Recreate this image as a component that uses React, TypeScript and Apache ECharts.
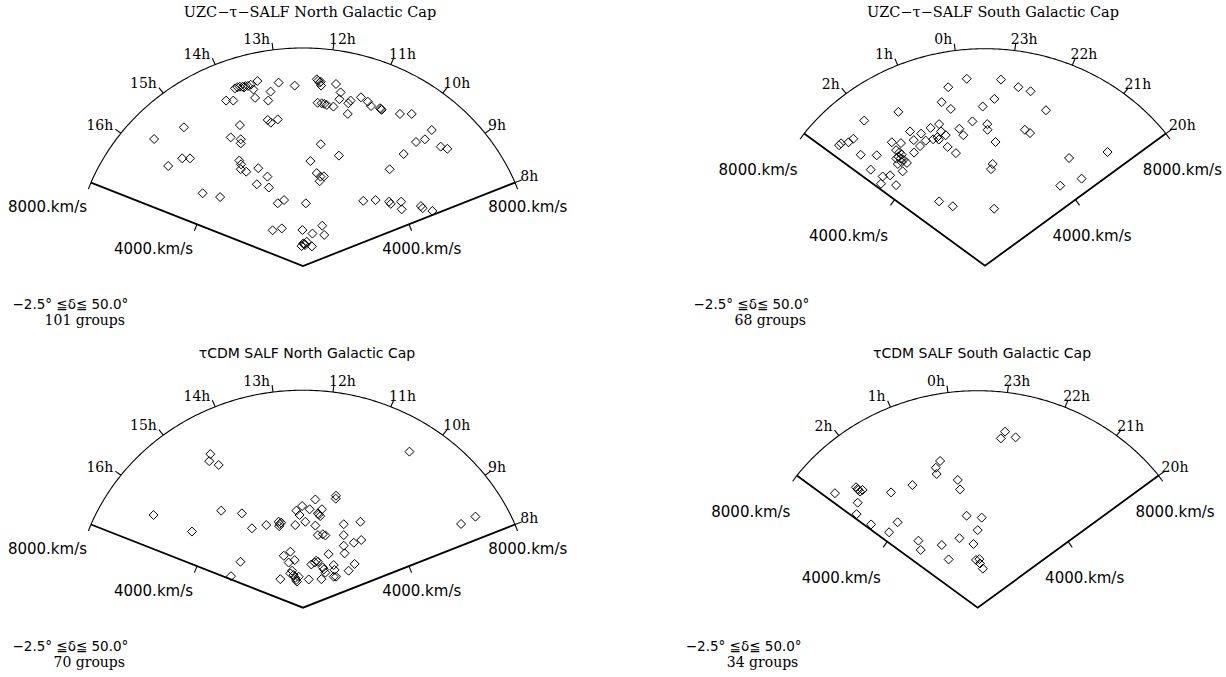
import React, { useEffect, useRef } from "react";
import * as echarts from "echarts";

// ---- Data: projected cone coordinates of the groups (km/s) ----
// x: east-west offset across the cone (negative = larger RA side / left), y: along the cone axis
const uzcNorthX = [-2370, -2280, -2200, -2100, -2010, -1920, -1820, -1730, -1590, -1130, -850, -290, -2680, -2430, -1670, -1210, 480, 530, 620, 630, 1150, 1310, 510, 650, 740, 830, 1060, 1270, 1580, 1660, 1560, 2020, 2260, 2370, 2680, 2740, 3380, 3790, 4490, 4250, 3940, 4800, 5030, 3510, 3020, -1230, -1120, -880, -2200, -2520, -2170, -2170, -4150, -5190, -4210, -3940, -4700, -2220, -2160, -2170, -1980, -1560, -1240, -1610, -1190, -3500, -2890, -880, -660, 100, 260, 620, 480, 610, 730, 580, 1250, -1060, -740, -20, 330, 670, 740, -50, 10, 70, 130, 310, 2100, 2530, 3000, 3060, 3420, 3440, 4110, 4170, 4510, -2060, 50, 2720, 580];
const uzcNorthY = [6520, 6560, 6580, 6580, 6600, 6610, 6650, 6480, 6790, 6400, 6730, 6620, 6070, 6070, 6170, 6070, 6850, 6800, 6760, 6620, 6680, 6370, 5990, 5970, 5950, 5910, 5850, 6120, 5970, 6070, 5580, 6190, 6030, 5870, 5790, 5730, 5580, 5580, 4990, 4650, 4550, 4380, 4300, 4110, 3550, 5360, 5260, 5380, 5170, 4720, 4650, 4500, 5090, 4660, 3950, 3950, 3670, 3870, 3730, 3550, 3460, 3590, 3280, 3000, 2880, 2670, 2530, 2300, 2420, 2300, 3850, 4470, 3410, 3280, 3290, 3110, 4050, 1310, 1380, 1320, 1190, 1480, 1140, 730, 830, 770, 890, 720, 2390, 2420, 2360, 2280, 2360, 2080, 2200, 2120, 2020, 6550, 810, 5760, 6730];

const uzcSouthX = [-640, 560, -1290, 1170, 1600, 330, -1520, -1200, -80, 2140, -3040, -4240, -440, -1610, -1910, 80, 90, -900, 1400, 1580, -2630, -1540, -2240, -1380, -2500, -2080, -2280, -1820, -1670, -1620, -760, 370, -1310, -1020, -5120, -5050, -4790, -4620, -4360, -3800, -3270, -2950, -2490, -2740, -3120, -3000, -2920, -3040, -2960, -2860, -2920, -3060, -3110, -2890, -4010, -3590, -3330, -3650, -3120, -1610, -1130, 320, 270, 210, 2950, 4300, 3390, 2640];
const uzcSouthY = [6890, 6860, 6580, 6580, 6430, 6150, 6030, 5780, 5870, 5730, 5670, 5350, 5320, 5220, 5080, 5220, 5010, 5050, 5010, 4890, 4950, 4950, 4870, 4810, 4630, 4610, 4410, 4660, 4740, 4650, 4810, 4560, 4380, 4150, 4440, 4510, 4550, 4680, 4090, 4070, 4550, 4520, 4170, 3790, 4260, 4180, 4090, 4020, 3950, 3910, 3820, 3750, 3950, 3480, 3540, 3290, 3330, 3020, 2970, 2370, 2190, 2100, 3750, 3560, 3970, 4190, 3210, 2950];

const cdmNorthX = [-3230, -3270, -2940, 3710, 5510, 6010, -5210, -3870, -2850, -2130, -1780, -1280, -850, -760, -830, -810, -270, -30, -230, -120, 230, 430, 660, 550, 600, 520, 1150, 1140, 80, 430, 1420, 2000, 520, 690, 780, 1420, 1770, 2030, 1420, 1450, -2180, -2510, -670, -440, -500, -290, -790, -380, -440, -330, -270, -240, -210, -150, 200, 290, 410, 460, 520, 690, 730, 890, 640, 1070, 1100, 1150, 1070, 1590, 1800, 780];
const cdmNorthY = [5650, 5390, 5250, 5740, 3080, 3350, 3410, 2800, 3570, 3470, 2920, 3040, 3160, 3130, 3000, 3080, 3040, 3740, 3570, 3410, 3620, 3980, 3620, 3430, 3370, 3470, 4120, 4010, 3160, 3020, 3070, 3160, 2670, 2700, 2660, 2670, 2390, 2490, 2280, 2000, 1690, 1160, 1910, 2060, 1660, 1750, 1050, 1360, 1260, 1200, 1100, 1020, 960, 1140, 1040, 1590, 1660, 1730, 1690, 1480, 1410, 1970, 1050, 1570, 1390, 1140, 1140, 1360, 1610, 1290];

const cdmSouthX = [960, 810, 1330, -1320, -1470, -1440, -700, -620, -2290, -3040, -5010, -4270, -4190, -4130, -4040, -4210, -4210, -4250, -3740, -3110, -2810, -2080, -2000, -1260, -1020, -640, -390, 140, 0, -150, -60, 60, 80, 180];
const cdmSouthY = [6490, 6240, 6280, 5410, 5160, 4930, 4710, 4360, 4520, 4250, 4220, 4440, 4340, 4280, 4340, 4380, 3870, 3450, 3070, 2780, 3150, 2470, 2130, 2310, 1780, 2560, 3390, 3320, 2860, 2350, 1760, 1790, 1630, 1440];

// ---- Axis labels ----
const northHours = [8, 9, 10, 11, 12, 13, 14, 15, 16];
const southHours = [20, 21, 22, 23, 0, 1, 2];
const velocityTicks = [4000, 8000];
const panelTitles = [
  "UZC\u2212\u03c4\u2212SALF North Galactic Cap",
  "UZC\u2212\u03c4\u2212SALF South Galactic Cap",
  "\u03c4CDM SALF North Galactic Cap",
  "\u03c4CDM SALF South Galactic Cap",
];
const groupCounts = [101, 68, 70, 34];
const declinationNote = "\u22122.5\u00b0 \u2266\u03b4\u2266 50.0\u00b0";

// ---- Layout / style ----
const VMAX = 8000;
const TICK = 7;
const SERIF = '"DejaVu Serif", serif';
const SANS = '"DejaVu Sans", sans-serif';
const HOUR_FS = 14;
const VEL_FS = 15;
const NOTE_FS = 13.5;
const COUNT_FS = 14;

const layouts = [
  { xs: uzcNorthX, ys: uzcNorthY, hours: northHours, centerRA: 12.5, half: 4.5, apexX: 303, apexY: 266, rx: 229.5, ry: 218, titleX: 310, titleY: 17.3, titleFont: SERIF, titleFs: 14.5, velL: -43.5, velR: 12.7, velDown: 30, noteX: 12.5, noteY: 308.5 },
  { xs: uzcSouthX, ys: uzcSouthY, hours: southHours, centerRA: 23.5, half: 3.5, apexX: 985, apexY: 265.7, rx: 228, ry: 217, titleX: 993, titleY: 17.3, titleFont: SERIF, titleFs: 14.5, velL: -46, velR: 16.5, velDown: 41.5, noteX: 693.5, noteY: 308.5 },
  { xs: cdmNorthX, ys: cdmNorthY, hours: northHours, centerRA: 12.5, half: 4.5, apexX: 303, apexY: 607.7, rx: 229.5, ry: 217.5, titleX: 307, titleY: 357.5, titleFont: SANS, titleFs: 14, velL: -43.5, velR: 12.7, velDown: 30, noteX: 12.5, noteY: 650.5 },
  { xs: cdmSouthX, ys: cdmSouthY, hours: southHours, centerRA: 23.5, half: 3.5, apexX: 977.7, apexY: 607.7, rx: 228, ry: 217, titleX: 982, titleY: 357.5, titleFont: SANS, titleFs: 14, velL: -46, velR: 16.5, velDown: 41.5, noteX: 685.8, noteY: 650.5 },
];

function toXY(delta: number, v: number): number[] {
  const t = (delta * 15 * Math.PI) / 180;
  return [-v * Math.sin(t), v * Math.cos(t)];
}
function raDelta(ra: number, center: number): number {
  let d = ra - center;
  while (d > 12) d -= 24;
  while (d < -12) d += 24;
  return d;
}
function textStyle(text: string, font: string, align: string) {
  return { text, font, fill: "#000", align, textAlign: align, verticalAlign: "middle", textVerticalAlign: "middle" };
}

function buildOption() {
  const grid: any[] = [];
  const xAxis: any[] = [];
  const yAxis: any[] = [];
  const series: any[] = [];
  const graphic: any[] = [];

  layouts.forEach((p, i) => {
    grid.push({ left: p.apexX - p.rx, top: p.apexY - p.ry, width: 2 * p.rx, height: p.ry });
    xAxis.push({ gridIndex: i, type: "value", min: -VMAX, max: VMAX, show: false });
    yAxis.push({ gridIndex: i, type: "value", min: 0, max: VMAX, show: false });

    // cone outline
    series.push({
      type: "custom", xAxisIndex: i, yAxisIndex: i, silent: true, z: 2,
      data: [[0, 0]],
      renderItem: (_params: any, api: any) => {
        const arc: number[][] = [];
        const n = 200;
        for (let k = 0; k <= n; k++) {
          const d = -p.half + (2 * p.half * k) / n;
          arc.push(api.coord(toXY(d, VMAX)));
        }
        const apex = api.coord([0, 0]);
        const e1 = api.coord(toXY(-p.half, VMAX));
        const e2 = api.coord(toXY(p.half, VMAX));
        return {
          type: "group",
          children: [
            { type: "polyline", shape: { points: arc }, style: { stroke: "#000", lineWidth: 1.1, fill: "none" } },
            { type: "polyline", shape: { points: [e1, apex, e2] }, style: { stroke: "#000", lineWidth: 1.8, fill: "none" } },
          ],
        };
      },
    });

    // hour ticks and labels on the arc
    series.push({
      type: "custom", xAxisIndex: i, yAxisIndex: i, silent: true, z: 2,
      data: p.hours.map((h) => [h, 0]),
      renderItem: (_params: any, api: any) => {
        const h = api.value(0);
        const d = raDelta(h, p.centerRA);
        const p0 = api.coord(toXY(d, VMAX));
        const a = api.coord([0, 0]);
        const dx = p0[0] - a[0], dy = p0[1] - a[1];
        const L = Math.hypot(dx, dy);
        const p1 = [p0[0] + (dx / L) * TICK, p0[1] + (dy / L) * TICK];
        const right = d < 0;
        const cosT = Math.cos((d * 15 * Math.PI) / 180);
        const tx = right ? p1[0] + 1 - 6 * cosT : p1[0] - 2;
        return {
          type: "group",
          children: [
            { type: "line", shape: { x1: p0[0], y1: p0[1], x2: p1[0], y2: p1[1] }, style: { stroke: "#000", lineWidth: 1.1 } },
            { type: "text", x: tx, y: p1[1] + 0.5 - 0.35 * HOUR_FS, style: textStyle(h + "h", `${HOUR_FS}px ${SERIF}`, right ? "left" : "right") },
          ],
        };
      },
    });

    // velocity ticks and labels on both straight edges
    series.push({
      type: "custom", xAxisIndex: i, yAxisIndex: i, silent: true, z: 2,
      data: velocityTicks.map((v) => [v, 0]),
      renderItem: (_params: any, api: any) => {
        const v = api.value(0);
        const a = api.coord([0, 0]);
        const children: any[] = [];
        [-p.half, p.half].forEach((d) => {
          const pt = api.coord(toXY(d, v));
          const end = api.coord(toXY(d, VMAX));
          const ex = end[0] - a[0], ey = end[1] - a[1];
          const L = Math.hypot(ex, ey);
          let nx = -ey / L, ny = ex / L;
          if (ny < 0) { nx = -nx; ny = -ny; }
          children.push({ type: "line", shape: { x1: pt[0], y1: pt[1], x2: pt[0] + nx * TICK, y2: pt[1] + ny * TICK }, style: { stroke: "#000", lineWidth: 1.1 } });
          const cx = pt[0] + (d < 0 ? p.velR : p.velL);
          children.push({ type: "text", x: cx, y: pt[1] + p.velDown - 0.35 * VEL_FS, style: textStyle(v + ".km/s", `${VEL_FS}px ${SANS}`, "center") });
        });
        return { type: "group", children };
      },
    });

    // groups
    series.push({
      type: "scatter", xAxisIndex: i, yAxisIndex: i, silent: true, z: 3,
      symbol: "diamond", symbolSize: 9,
      itemStyle: { color: "rgba(0,0,0,0)", borderColor: "#000", borderWidth: 1, opacity: 1 },
      data: p.xs.map((x, k) => [x, p.ys[k]]),
    });

    graphic.push({ type: "text", x: p.titleX, y: p.titleY - 0.35 * p.titleFs, style: textStyle(panelTitles[i], `${p.titleFs}px ${p.titleFont}`, "center") });
    graphic.push({ type: "text", x: p.noteX, y: p.noteY - 0.35 * NOTE_FS, style: textStyle(declinationNote, `${NOTE_FS}px ${SANS}`, "left") });
    graphic.push({ type: "text", x: p.noteX + 112.5, y: p.noteY + 16 - 0.35 * COUNT_FS, style: textStyle(`${groupCounts[i]} groups`, `${COUNT_FS}px ${SERIF}`, "right") });
  });

  return { animation: false, backgroundColor: "#fff", grid, xAxis, yAxis, series, graphic };
}

export default function App() {
  const ref = useRef<HTMLDivElement>(null);
  useEffect(() => {
    document.body.style.margin = "0";
    const chart = echarts.init(ref.current as HTMLDivElement, null, { renderer: "svg" });
    chart.setOption(buildOption() as any);
    return () => chart.dispose();
  }, []);
  return <div ref={ref} style={{ width: 1226, height: 677 }} />;
}
